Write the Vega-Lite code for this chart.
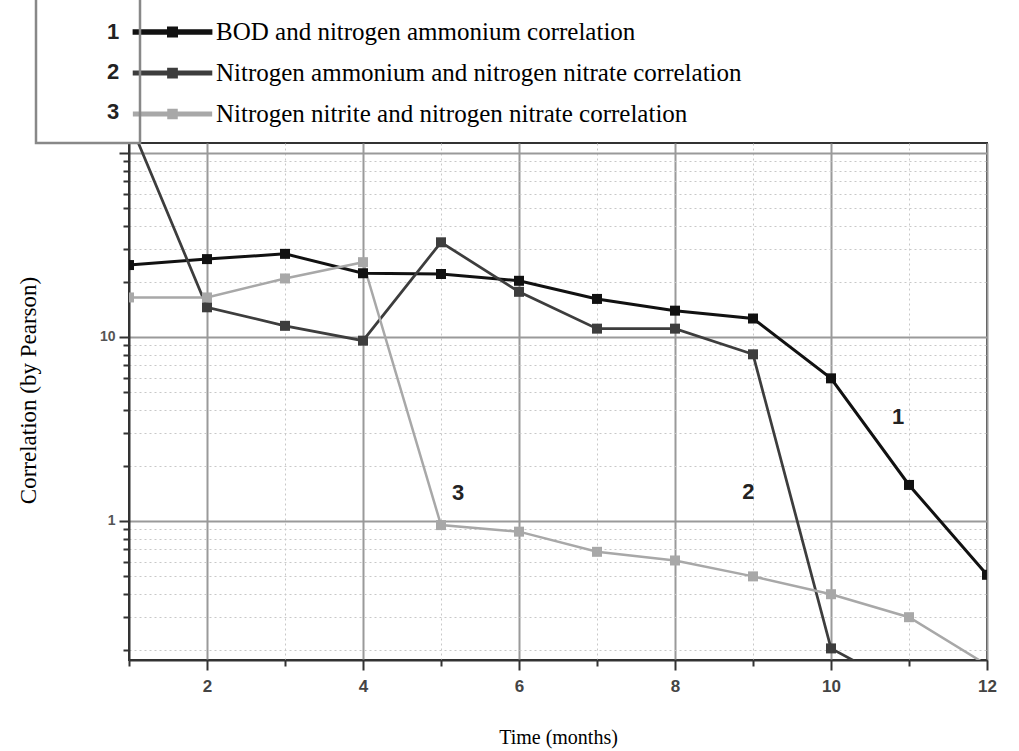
{
  "$schema": "https://vega.github.io/schema/vega-lite/v6.json",
  "width": 858,
  "height": 517,
  "autosize": {"type": "none"},
  "padding": {"left": 129, "top": 143, "right": 32, "bottom": 91},
  "background": "white",
  "config": {"view": {"stroke": "#333333", "strokeWidth": 2}, "font": "Liberation Sans"},
  "datasets": {
    "series": [
      {"series": "BOD and nitrogen ammonium correlation", "num": "1", "month": 1, "value": 24.6},
      {"series": "BOD and nitrogen ammonium correlation", "num": "1", "month": 2, "value": 26.5},
      {"series": "BOD and nitrogen ammonium correlation", "num": "1", "month": 3, "value": 28.3},
      {"series": "BOD and nitrogen ammonium correlation", "num": "1", "month": 4, "value": 22.2},
      {"series": "BOD and nitrogen ammonium correlation", "num": "1", "month": 5, "value": 22.0},
      {"series": "BOD and nitrogen ammonium correlation", "num": "1", "month": 6, "value": 20.2},
      {"series": "BOD and nitrogen ammonium correlation", "num": "1", "month": 7, "value": 16.1},
      {"series": "BOD and nitrogen ammonium correlation", "num": "1", "month": 8, "value": 13.9},
      {"series": "BOD and nitrogen ammonium correlation", "num": "1", "month": 9, "value": 12.6},
      {"series": "BOD and nitrogen ammonium correlation", "num": "1", "month": 10, "value": 5.96},
      {"series": "BOD and nitrogen ammonium correlation", "num": "1", "month": 11, "value": 1.57},
      {"series": "BOD and nitrogen ammonium correlation", "num": "1", "month": 12, "value": 0.51},
      {"series": "Nitrogen ammonium and nitrogen nitrate correlation", "num": "2", "month": 1, "value": 150},
      {"series": "Nitrogen ammonium and nitrogen nitrate correlation", "num": "2", "month": 2, "value": 14.5},
      {"series": "Nitrogen ammonium and nitrogen nitrate correlation", "num": "2", "month": 3, "value": 11.5},
      {"series": "Nitrogen ammonium and nitrogen nitrate correlation", "num": "2", "month": 4, "value": 9.55},
      {"series": "Nitrogen ammonium and nitrogen nitrate correlation", "num": "2", "month": 5, "value": 32.7},
      {"series": "Nitrogen ammonium and nitrogen nitrate correlation", "num": "2", "month": 6, "value": 17.6},
      {"series": "Nitrogen ammonium and nitrogen nitrate correlation", "num": "2", "month": 7, "value": 11.1},
      {"series": "Nitrogen ammonium and nitrogen nitrate correlation", "num": "2", "month": 8, "value": 11.1},
      {"series": "Nitrogen ammonium and nitrogen nitrate correlation", "num": "2", "month": 9, "value": 8.05},
      {"series": "Nitrogen ammonium and nitrogen nitrate correlation", "num": "2", "month": 10, "value": 0.203},
      {"series": "Nitrogen ammonium and nitrogen nitrate correlation", "num": "2", "month": 11, "value": 0.12},
      {"series": "Nitrogen nitrite and nitrogen nitrate correlation", "num": "3", "month": 1, "value": 16.4},
      {"series": "Nitrogen nitrite and nitrogen nitrate correlation", "num": "3", "month": 2, "value": 16.4},
      {"series": "Nitrogen nitrite and nitrogen nitrate correlation", "num": "3", "month": 3, "value": 20.8},
      {"series": "Nitrogen nitrite and nitrogen nitrate correlation", "num": "3", "month": 4, "value": 25.5},
      {"series": "Nitrogen nitrite and nitrogen nitrate correlation", "num": "3", "month": 5, "value": 0.95},
      {"series": "Nitrogen nitrite and nitrogen nitrate correlation", "num": "3", "month": 6, "value": 0.875},
      {"series": "Nitrogen nitrite and nitrogen nitrate correlation", "num": "3", "month": 7, "value": 0.68},
      {"series": "Nitrogen nitrite and nitrogen nitrate correlation", "num": "3", "month": 8, "value": 0.61},
      {"series": "Nitrogen nitrite and nitrogen nitrate correlation", "num": "3", "month": 9, "value": 0.5},
      {"series": "Nitrogen nitrite and nitrogen nitrate correlation", "num": "3", "month": 10, "value": 0.4},
      {"series": "Nitrogen nitrite and nitrogen nitrate correlation", "num": "3", "month": 11, "value": 0.3},
      {"series": "Nitrogen nitrite and nitrogen nitrate correlation", "num": "3", "month": 12, "value": 0.165}
    ],
    "notes": [
      {"label": "1", "month": 10.86, "value": 3.67},
      {"label": "2", "month": 8.94, "value": 1.44},
      {"label": "3", "month": 5.22, "value": 1.42}
    ]
  },
  "layer": [
    {
      "data": {"name": "series"},
      "encoding": {
        "x": {
          "field": "month", "type": "quantitative",
          "scale": {"domain": [1, 12], "nice": false, "zero": false},
          "axis": {
            "values": [1, 2, 3, 4, 5, 6, 7, 8, 9, 10, 11, 12],
            "format": "d",
            "labelExpr": "datum.value % 2 === 0 ? datum.label : ''",
            "grid": true,
            "gridColor": {"condition": {"test": "datum.value % 2 === 0", "value": "#9a9a9a"}, "value": "#c8c8c8"},
            "gridDash": {"condition": {"test": "datum.value % 2 === 0", "value": []}, "value": [2, 3]},
            "gridWidth": {"condition": {"test": "datum.value % 2 === 0", "value": 2}, "value": 1},
            "tickSize": {"condition": {"test": "datum.value % 2 === 0", "value": 10}, "value": 6},
            "tickColor": "#333333", "tickWidth": 2,
            "domainColor": "#333333", "domainWidth": 2,
            "labelFont": "Liberation Sans", "labelFontWeight": "bold", "labelFontSize": 17,
            "labelColor": "#444444", "labelPadding": 8, "labelFlush": false,
            "title": "Time (months)", "titleFont": "Liberation Serif", "titleFontWeight": "normal",
            "titleFontSize": 20, "titleColor": "#000000", "titlePadding": 33
          }
        },
        "y": {
          "field": "value", "type": "quantitative",
          "scale": {"type": "log", "domain": [0.1756, 113.3], "nice": false},
          "axis": {
            "values": [0.2, 0.3, 0.4, 0.5, 0.6, 0.7, 0.8, 0.9, 1, 2, 3, 4, 5, 6, 7, 8, 9, 10, 20, 30, 40, 50, 60, 70, 80, 90, 100],
            "labelExpr": "datum.value === 1 ? '1' : (datum.value === 10 ? '10' : '')",
            "grid": true,
            "gridColor": {"condition": {"test": "datum.value === 1 || datum.value === 10 || datum.value === 100", "value": "#9a9a9a"}, "value": "#c8c8c8"},
            "gridDash": {"condition": {"test": "datum.value === 1 || datum.value === 10 || datum.value === 100", "value": []}, "value": [2, 3]},
            "gridWidth": {"condition": {"test": "datum.value === 1 || datum.value === 10 || datum.value === 100", "value": 2}, "value": 1},
            "tickSize": {"condition": {"test": "datum.value === 1 || datum.value === 10 || datum.value === 100", "value": 10}, "value": 6},
            "tickColor": "#333333", "tickWidth": 2,
            "domainColor": "#333333", "domainWidth": 2,
            "labelFont": "Liberation Sans", "labelFontWeight": "bold", "labelFontSize": 14,
            "labelColor": "#555555", "labelPadding": 4,
            "title": "Correlation (by Pearson)", "titleFont": "Liberation Serif", "titleFontWeight": "normal",
            "titleFontSize": 23, "titleColor": "#000000", "titlePadding": 59, "titleY": 247
          }
        },
        "color": {
          "field": "series", "type": "nominal",
          "scale": {
            "domain": ["BOD and nitrogen ammonium correlation", "Nitrogen ammonium and nitrogen nitrate correlation", "Nitrogen nitrite and nitrogen nitrate correlation"],
            "range": ["#111111", "#3d3d3d", "#a8a8a8"]
          },
          "legend": {
            "orient": "none", "legendX": 31, "legendY": -123.5, "direction": "vertical",
            "title": null,
            "symbolType": "M-9.6,-0.3L9.6,-0.3L9.6,0.3L-9.6,0.3Z M-1,-1L1,-1L1,1L-1,1Z",
            "symbolSize": 64, "symbolStrokeWidth": 0, "symbolOffset": 0,
            "labelOffset": 31,
            "labelFont": "Liberation Serif", "labelFontSize": 25, "labelColor": "#000000", "labelLimit": 1000,
            "rowPadding": 15, "padding": 0,
            "encode": {"symbols": {"update": {"fill": {"scale": "color", "field": "value"}, "opacity": {"value": 1}, "strokeWidth": {"value": 0}}}}
          }
        },
        "opacity": {
          "field": "num", "type": "ordinal",
          "scale": {"domain": ["1", "2", "3"], "range": [1, 1, 1]},
          "legend": {
            "orient": "none", "legendX": -93, "legendY": -172, "direction": "vertical",
            "title": "\u00a0\u00a0\u00a0\u00a0\u00a0\u00a0\u00a0\u00a0\u00a0\u00a0\u00a0\u00a0\u00a0\u00a0\u00a0\u00a0\u00a0\u00a0\u00a0\u00a0\u00a0\u00a0\u00a0\u00a0\u00a0\u00a0\u00a0\u00a0\u00a0\u00a0\u00a0\u00a0\u00a0\u00a0\u00a0\u00a0\u00a0\u00a0\u00a0\u00a0\u00a0\u00a0\u00a0\u00a0\u00a0\u00a0\u00a0\u00a0\u00a0\u00a0\u00a0\u00a0\u00a0\u00a0\u00a0\u00a0\u00a0\u00a0\u00a0\u00a0\u00a0\u00a0\u00a0\u00a0\u00a0\u00a0\u00a0\u00a0\u00a0\u00a0\u00a0\u00a0\u00a0\u00a0\u00a0\u00a0\u00a0\u00a0\u00a0\u00a0\u00a0\u00a0\u00a0\u00a0\u00a0\u00a0\u00a0\u00a0\u00a0\u00a0\u00a0\u00a0\u00a0\u00a0\u00a0\u00a0\u00a0\u00a0\u00a0\u00a0\u00a0\u00a0\u00a0\u00a0\u00a0\u00a0\u00a0\u00a0\u00a0\u00a0\u00a0\u00a0\u00a0\u00a0\u00a0\u00a0\u00a0\u00a0\u00a0\u00a0\u00a0\u00a0\u00a0\u00a0\u00a0\u00a0\u00a0\u00a0\u00a0",
            "titleFont": "Liberation Sans", "titleFontSize": 30, "titlePadding": 0, "titleLimit": 3000,
            "symbolOpacity": 0, "symbolSize": 1, "symbolStrokeWidth": 0,
            "symbolFillColor": "transparent", "symbolStrokeColor": "transparent",
            "labelOffset": 29,
            "labelFont": "Liberation Sans", "labelFontWeight": "bold", "labelFontSize": 22,
            "labelColor": "#222222", "labelLimit": 200,
            "rowPadding": 18, "padding": 20,
            "strokeColor": "#888888",
            "encode": {
              "legend": {"update": {"strokeWidth": {"value": 2.5}}},
              "symbols": {"update": {"opacity": {"value": 0}, "fillOpacity": {"value": 0}, "strokeOpacity": {"value": 0}}}
            }
          }
        },
        "strokeWidth": {
          "field": "series", "type": "nominal",
          "scale": {
            "domain": ["BOD and nitrogen ammonium correlation", "Nitrogen ammonium and nitrogen nitrate correlation", "Nitrogen nitrite and nitrogen nitrate correlation"],
            "range": [3, 2.5, 2]
          },
          "legend": null
        }
      },
      "layer": [
        {"mark": {"type": "line", "clip": true}},
        {"mark": {"type": "point", "shape": "square", "filled": true, "size": 100, "clip": true}}
      ]
    },
    {
      "data": {"name": "notes"},
      "mark": {"type": "text", "font": "Liberation Sans", "fontWeight": "bold", "fontSize": 22, "color": "#222222"},
      "encoding": {
        "x": {"field": "month", "type": "quantitative"},
        "y": {"field": "value", "type": "quantitative"},
        "text": {"field": "label"}
      }
    }
  ]
}
